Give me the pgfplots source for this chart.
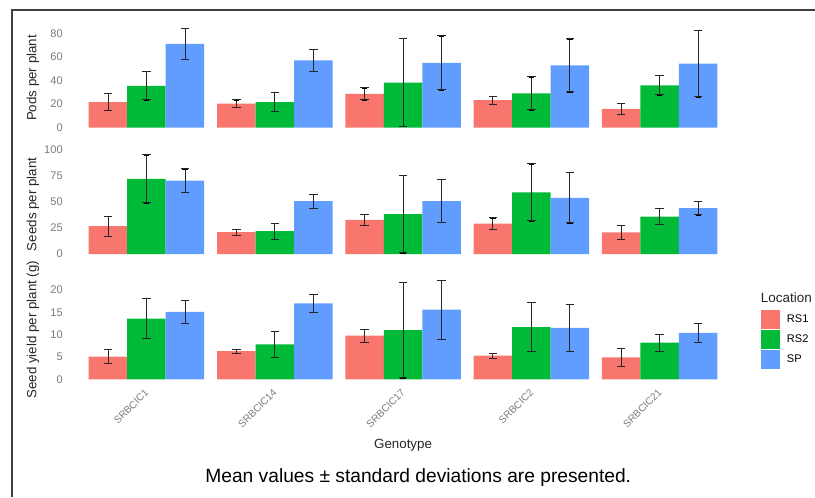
\documentclass[border=0pt]{standalone}
\usepackage{pgfplots}
\pgfplotsset{compat=1.18}
\usepackage{pgfplotstable}
\usepackage{fontspec}
\setmainfont{Liberation Sans}

\definecolor{cRS1}{HTML}{F8766D}
\definecolor{cRS2}{HTML}{00BA38}
\definecolor{cSP}{HTML}{619CFF}
\definecolor{tickgray}{HTML}{7A7A7A}

\pgfplotstableread{
g rs1 rs1e rs2 rs2e sp spe
1 21.8 7.3 35.6 11.9 71.2 13.0
2 20.4 3.3 21.8 8.2 57.2 9.6
3 28.8 5.1 38.2 37.3 55.1 22.9
4 23.5 3.4 29.2 14.0 52.9 22.5
5 16.1 4.8 36.0 8.1 54.3 28.1
}\pods
\pgfplotstableread{
g rs1 rs1e rs2 rs2e sp spe
1 26.8 9.5 72.0 23.0 70.4 11.2
2 20.9 2.7 21.9 7.6 50.8 6.7
3 32.7 5.3 38.2 37.1 50.8 20.8
4 29.2 5.4 59.1 27.3 53.9 24.1
5 20.7 6.5 35.9 7.8 44.0 6.5
}\seeds
\pgfplotstableread{
g rs1 rs1e rs2 rs2e sp spe
1 5.1 1.55 13.6 4.5 15.1 2.5
2 6.3 0.45 7.8 2.85 17.0 2.05
3 9.8 1.45 11.0 10.65 15.6 6.6
4 5.3 0.55 11.7 5.5 11.5 5.3
5 4.9 2.0 8.2 1.9 10.4 2.2
}\yieldt

\pgfplotsset{
  panel/.style={
    scale only axis,
    width=500.4pt,
    xmin=0.4, xmax=5.6,
    enlargelimits=false,
    axis line style={draw=none},
    major tick length=0pt,
    tick style={draw=none},
    /pgf/number format/assume math mode=true,
    yticklabel style={font=\fontsize{8.3}{10}\selectfont, text=tickgray, inner sep=0pt, xshift=-4.9pt},
    xticklabel style={font=\fontsize{7.6}{9}\selectfont, text=tickgray},
  },
  s1/.style={ybar, bar width=0.3, bar shift=0pt, fill=cRS1, draw=none},
  s2/.style={ybar, bar width=0.3, bar shift=0pt, fill=cRS2, draw=none},
  s3/.style={ybar, bar width=0.3, bar shift=0pt, fill=cSP, draw=none},
  ebar/.style={forget plot, draw=none, mark=none,
    error bars/.cd, y dir=both, y explicit,
    error bar style={draw=black!85, line width=0.7pt}},
  cap/.style={forget plot, only marks, mark=-, mark size=3.2pt,
    mark options={draw=black!85, line width=0.7pt}},
}

% error bar with caps for one series: table, value column, sd column, x offset
\newcommand{\errbar}[4]{%
  \addplot[ebar] table[x expr=\thisrow{g}#4, y=#2, y error=#3] {#1};
  \addplot[cap] table[x expr=\thisrow{g}#4, y expr=\thisrow{#2}+\thisrow{#3}] {#1};
  \addplot[cap] table[x expr=\thisrow{g}#4, y expr=\thisrow{#2}-\thisrow{#3}] {#1};
}

\begin{document}
\begin{tikzpicture}
\path[use as bounding box] (0,0) rectangle (611.25pt,372.75pt);
\draw[black!75, line width=0.8pt] (9pt,0pt) -- (9pt,365.25pt) -- (611.25pt,365.25pt);

% Panel 1: Pods per plant
\begin{axis}[panel, at={(52.125pt,273.225pt)}, anchor=south west, height=81.975pt,
  ymin=-4.215, ymax=88.5, ytick={0,20,40,60,80}, xtick=\empty]
\addplot[s1] table[x expr=\thisrow{g}-0.3, y=rs1] {\pods};
\addplot[s2] table[x expr=\thisrow{g}, y=rs2] {\pods};
\addplot[s3] table[x expr=\thisrow{g}+0.3, y=sp] {\pods};
\errbar{\pods}{rs1}{rs1e}{-0.3}
\errbar{\pods}{rs2}{rs2e}{+0}
\errbar{\pods}{sp}{spe}{+0.3}
\end{axis}

% Panel 2: Seeds per plant
\begin{axis}[panel, at={(52.125pt,178.5pt)}, anchor=south west, height=81.975pt,
  ymin=-4.76, ymax=99.96, ytick={0,25,50,75,100}, xtick=\empty]
\addplot[s1] table[x expr=\thisrow{g}-0.3, y=rs1] {\seeds};
\addplot[s2] table[x expr=\thisrow{g}, y=rs2] {\seeds};
\addplot[s3] table[x expr=\thisrow{g}+0.3, y=sp] {\seeds};
\errbar{\seeds}{rs1}{rs1e}{-0.3}
\errbar{\seeds}{rs2}{rs2e}{+0}
\errbar{\seeds}{sp}{spe}{+0.3}
\end{axis}

% Panel 3: Seed yield per plant
\begin{axis}[panel, at={(52.125pt,84.525pt)}, anchor=south west, height=81.825pt,
  ymin=-1.11, ymax=23.31, ytick={0,5,10,15,20},
  xtick={1,2,3,4,5},
  xticklabels={SRBCIC1,SRBCIC14,SRBCIC17,SRBCIC2,SRBCIC21},
  xticklabel style={xshift=-1.8pt, rotate=45, anchor=north east, inner sep=0pt},
  xticklabel shift=3pt,
  legend style={at={(axis description cs:1.036,0.681)}, anchor=north west,
    draw=none, fill=none, inner sep=0pt, row sep=1.3pt,
    nodes={inner sep=0pt, font=\fontsize{8.3}{10}\selectfont},
    /tikz/every odd column/.style={column sep=5.5pt}},
  legend cell align=left,
  legend image code/.code={\fill[#1] (0pt,-6.85pt) rectangle (14pt,6.85pt);},
  ]
\addplot[s1] table[x expr=\thisrow{g}-0.3, y=rs1] {\yieldt};
\addplot[s2] table[x expr=\thisrow{g}, y=rs2] {\yieldt};
\addplot[s3] table[x expr=\thisrow{g}+0.3, y=sp] {\yieldt};
\legend{RS1,RS2,SP}
\errbar{\yieldt}{rs1}{rs1e}{-0.3}
\errbar{\yieldt}{rs2}{rs2e}{+0}
\errbar{\yieldt}{sp}{spe}{+0.3}
\end{axis}

% Axis titles
\node[rotate=90, font=\fontsize{10}{12}\selectfont, text=black!85] at (24.75pt,314.25pt) {Pods per plant};
\node[rotate=90, font=\fontsize{10}{12}\selectfont, text=black!85] at (24.75pt,219.45pt) {Seeds per plant};
\node[rotate=90, font=\fontsize{10}{12}\selectfont, text=black!85] at (24.75pt,125.44pt) {Seed yield per plant (g)};
\node[font=\fontsize{10}{12}\selectfont, text=black!85] at (302.3pt,39pt) {Genotype};
\node[anchor=west, inner sep=0pt, font=\fontsize{10.1}{12}\selectfont, text=black!85] at (570.5pt,149.6pt) {Location};
\node[font=\fontsize{14.4}{17}\selectfont] at (313.7pt,14.25pt) {Mean values ± standard deviations are presented.};
\end{tikzpicture}
\end{document}
